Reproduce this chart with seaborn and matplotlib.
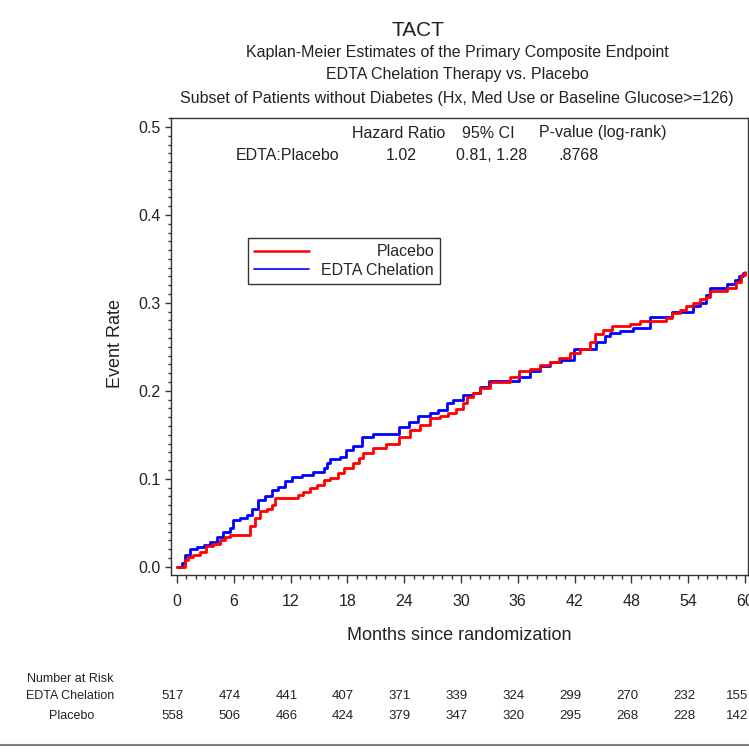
import matplotlib
matplotlib.use("Agg")
import matplotlib.pyplot as plt
import matplotlib.transforms as mtransforms
from matplotlib.lines import Line2D
from matplotlib.ticker import MultipleLocator
import numpy as np
import pandas as pd
import seaborn as sns

# ---------------- data ----------------
edta_months = [0, 0.5, 0.85, 1.4, 2.1, 2.8, 3.5, 4.2, 4.9, 5.6, 5.9, 6.7, 7.4, 7.9, 8.6, 9.3,
               10.0, 10.7, 11.4, 12.1, 13.2, 14.4, 15.5, 15.8, 16.2, 17.2, 17.9, 18.6, 19.5,
               20.7, 23.4, 24.5, 25.5, 26.7, 27.6, 28.5, 29.2, 30.2, 31.3, 32.0, 33.0, 36.1,
               37.3, 38.3, 39.4, 40.6, 41.9, 44.3, 45.2, 45.7, 46.8, 48.2, 50.0, 52.3, 54.5,
               55.2, 55.9, 56.3, 58.1, 58.9, 59.4, 59.8, 60.0]
edta_rate = [0, 0.004, 0.013, 0.020, 0.022, 0.025, 0.028, 0.034, 0.040, 0.044, 0.053, 0.055,
             0.059, 0.066, 0.076, 0.080, 0.087, 0.091, 0.098, 0.102, 0.104, 0.108, 0.112, 0.118,
             0.123, 0.125, 0.133, 0.137, 0.147, 0.151, 0.159, 0.165, 0.171, 0.175, 0.178, 0.186,
             0.190, 0.195, 0.198, 0.204, 0.211, 0.216, 0.222, 0.228, 0.233, 0.235, 0.247, 0.256,
             0.262, 0.266, 0.268, 0.272, 0.284, 0.290, 0.296, 0.300, 0.309, 0.317, 0.322, 0.326,
             0.330, 0.334, 0.334]

placebo_months = [0, 0.85, 1.2, 1.7, 2.4, 3.1, 3.8, 4.5, 5.1, 5.6, 7.7, 8.2, 8.8, 9.5, 10.0,
                  10.4, 12.8, 13.3, 14.0, 14.8, 15.5, 16.2, 17.0, 17.6, 18.6, 19.2, 19.7, 20.7,
                  22.1, 23.5, 24.6, 25.7, 26.7, 27.8, 28.6, 29.5, 30.2, 30.6, 31.3, 32.0, 33.1,
                  35.2, 36.1, 37.3, 38.3, 39.4, 40.4, 41.5, 42.6, 43.6, 44.2, 45.0, 45.9, 47.9,
                  48.9, 51.7, 52.3, 53.1, 53.8, 54.5, 55.2, 55.9, 56.3, 58.1, 59.1, 59.6, 60.0]
placebo_rate = [0, 0.008, 0.011, 0.013, 0.017, 0.023, 0.026, 0.030, 0.034, 0.036, 0.046, 0.055,
                0.063, 0.066, 0.070, 0.078, 0.082, 0.085, 0.089, 0.093, 0.099, 0.101, 0.106,
                0.112, 0.118, 0.124, 0.129, 0.135, 0.140, 0.147, 0.156, 0.161, 0.169, 0.171,
                0.175, 0.179, 0.186, 0.193, 0.197, 0.203, 0.210, 0.216, 0.222, 0.225, 0.229,
                0.233, 0.237, 0.243, 0.248, 0.256, 0.265, 0.269, 0.274, 0.276, 0.279, 0.283,
                0.288, 0.292, 0.296, 0.300, 0.304, 0.307, 0.313, 0.317, 0.324, 0.332, 0.335]

risk_months = [0, 6, 12, 18, 24, 30, 36, 42, 48, 54, 60]
risk_edta = [517, 474, 441, 407, 371, 339, 324, 299, 270, 232, 155]
risk_placebo = [558, 506, 466, 424, 379, 347, 320, 295, 268, 228, 142]

title_lines = ["Kaplan-Meier Estimates of the Primary Composite Endpoint",
               "EDTA Chelation Therapy vs. Placebo",
               "Subset of Patients without Diabetes (Hx, Med Use or Baseline Glucose>=126)"]
hr_header = ["Hazard Ratio", "95% CI", "P-value (log-rank)"]
hr_row = ["EDTA:Placebo", "1.02", "0.81, 1.28", ".8768"]

# ---------------- figure ----------------
sns.set_theme(style="white")
plt.rcParams["font.family"] = ["Liberation Sans", "DejaVu Sans"]

W, H = 749, 753
fig = plt.figure(figsize=(W / 100, H / 100), dpi=100)


def fx(px):
    return px / W


def fy(py):
    return 1 - py / H


L, R, T, B = 171, 748, 118, 575
ax = fig.add_axes([fx(L), fy(B), fx(R) - fx(L), fy(T) - fy(B)])

df = pd.concat([
    pd.DataFrame({"month": edta_months, "rate": edta_rate, "group": "EDTA Chelation"}),
    pd.DataFrame({"month": placebo_months, "rate": placebo_rate, "group": "Placebo"}),
])
sns.lineplot(data=df, x="month", y="rate", hue="group",
             hue_order=["EDTA Chelation", "Placebo"],
             palette={"EDTA Chelation": "#0000ff", "Placebo": "#ff0000"},
             estimator=None, sort=False, drawstyle="steps-post", lw=2.0,
             legend=False, ax=ax)

# axis scaling: 0 month at x=177px, 60 at 745px; 0 rate at 566.7px, 0.5 at 127px
ppm = (745 - 177) / 60.0
ppr = (566.7 - 127.0) / 0.5
ax.set_xlim(-(177 - L) / ppm, 60 + (R - 745) / ppm)
ax.set_ylim(-(B - 566.7) / ppr, (566.7 - T) / ppr)

axcol = "#333333"
for s in ax.spines.values():
    s.set_color(axcol)
    s.set_linewidth(1.0)

ax.xaxis.set_major_locator(MultipleLocator(6))
ax.xaxis.set_minor_locator(MultipleLocator(1))
ax.yaxis.set_major_locator(MultipleLocator(0.1))
ax.yaxis.set_minor_locator(MultipleLocator(0.01))
ax.yaxis.set_major_formatter(matplotlib.ticker.FormatStrFormatter("%.1f"))
ax.tick_params(axis="both", which="both", direction="out", color=axcol,
               labelcolor="#222222", labelsize=11.5)
ax.tick_params(axis="x", which="major", bottom=True, length=6, width=1, pad=8)
ax.tick_params(axis="x", which="minor", bottom=True, length=3, width=1)
ax.tick_params(axis="y", which="major", left=True, length=4.5, width=1, pad=3)
ax.tick_params(axis="y", which="minor", left=True, length=2, width=1)

ax.set_xlabel("Months since randomization", fontsize=13, color="#222222")
ax.xaxis.set_label_coords(0.5, -(627 - B) / (B - T))
ax.set_ylabel("Event Rate", fontsize=13, color="#222222")
ax.yaxis.set_label_coords(-(171 - 124) / (R - L), (B - 343) / (B - T))

# hazard ratio annotation
hdr_x = [352, 462, 539]
for s, x in zip(hr_header, hdr_x):
    fig.text(fx(x), fy(133), s, fontsize=11.5, ha="left", va="center", color="#222222")
row_x = [236, 386, 456, 559]
for s, x in zip(hr_row, row_x):
    fig.text(fx(x), fy(155), s, fontsize=11.5, ha="left", va="center", color="#222222")

# legend (labels right-aligned like the reference)
handles = [Line2D([], [], color="#ff0000", lw=1.8), Line2D([], [], color="#0000ff", lw=1.2)]
leg = ax.legend(handles, ["Placebo", "EDTA Chelation"], loc="upper left",
                bbox_to_anchor=((248 - L) / (R - L), (B - 238) / (B - T)),
                borderaxespad=0, fancybox=False, framealpha=1, edgecolor=axcol,
                fontsize=11.5, handlelength=3.4, handletextpad=0.8,
                labelspacing=0.2, borderpad=0.4)
leg.get_frame().set_linewidth(1.0)
fig.canvas.draw()
rend = fig.canvas.get_renderer()
widths = [t.get_window_extent(rend).width for t in leg.get_texts()]
mw = max(widths)
for t, w in zip(leg.get_texts(), widths):
    t.set_x(mw - w)

# titles
fig.text(fx(418), fy(30), "TACT", fontsize=15, ha="center", va="center", color="#222222")
for s, y in zip(title_lines, [53, 75, 98]):
    fig.text(fx(457), fy(y), s, fontsize=11.5, ha="center", va="center", color="#222222")

# number at risk table
blend = mtransforms.blended_transform_factory(ax.transData, fig.transFigure)
fig.text(fx(70), fy(679), "Number at Risk", fontsize=9, ha="center", va="center", color="#222222")
fig.text(fx(70), fy(696), "EDTA Chelation", fontsize=9, ha="center", va="center", color="#222222")
fig.text(fx(72), fy(716), "Placebo", fontsize=9, ha="center", va="center", color="#222222")
for m, a, b in zip(risk_months, risk_edta, risk_placebo):
    ha = "right" if m == risk_months[-1] else "center"
    dx = 0.3 if m == risk_months[-1] else -0.45
    ax.text(m + dx, fy(696), str(a), transform=blend, fontsize=9.5, ha=ha,
            va="center", color="#222222", clip_on=False)
    ax.text(m + dx, fy(716), str(b), transform=blend, fontsize=9.5, ha=ha,
            va="center", color="#222222", clip_on=False)

fig.add_artist(Line2D([0, 1], [fy(745), fy(745)], transform=fig.transFigure,
                      color="#808080", lw=1.5))

fig.savefig("out.png", dpi=100)
